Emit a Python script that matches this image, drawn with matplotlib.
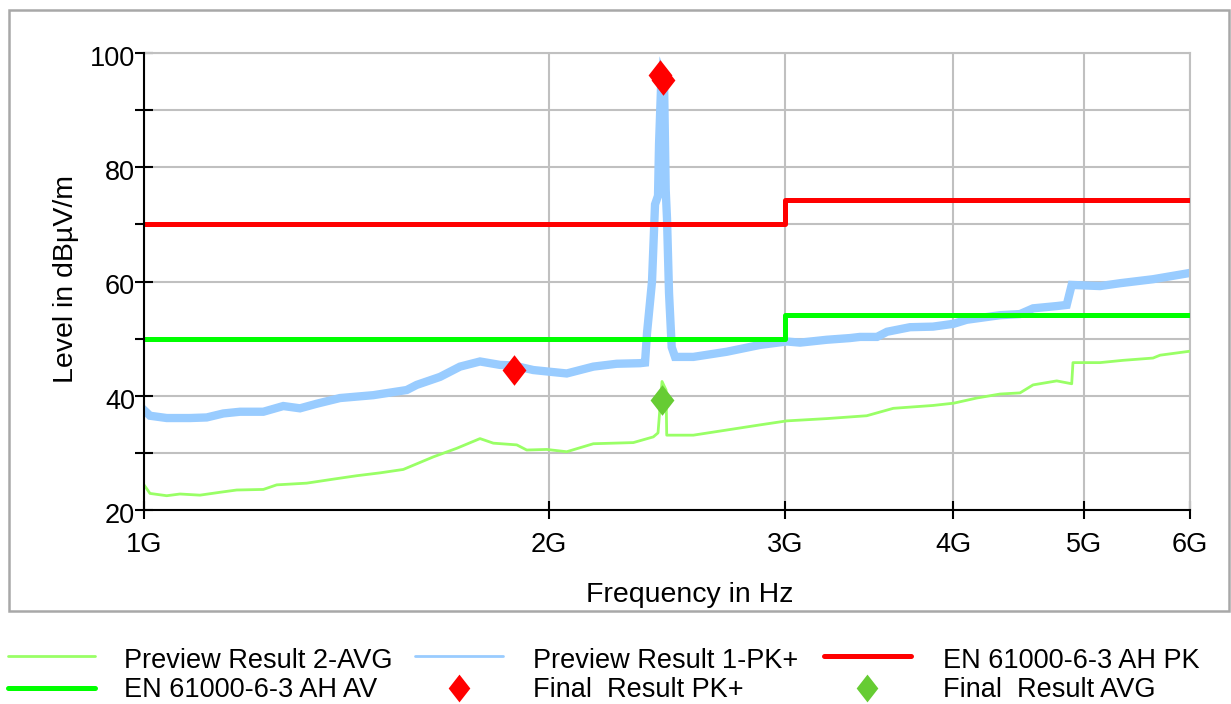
import matplotlib
matplotlib.use("Agg")
import matplotlib.pyplot as plt
from matplotlib.lines import Line2D
from matplotlib.patches import Rectangle
from matplotlib.ticker import FixedLocator, NullLocator
from matplotlib.transforms import ScaledTranslation

plt.rcParams['font.family'] = ['Liberation Sans', 'DejaVu Sans']

# frequency in GHz, level in dBuV/m
pk_freq = [1.000, 1.0103, 1.0397, 1.0820, 1.1134, 1.1455, 1.1787, 1.2268, 1.2695,
           1.3063, 1.3442, 1.3990, 1.4811, 1.5683, 1.5954, 1.6604, 1.7183, 1.7782,
           1.8402, 1.8826, 1.9482, 2.0047, 2.0629, 2.1591, 2.2473, 2.3388, 2.3590,
           2.3671, 2.3874, 2.3998, 2.4121, 2.4163, 2.4246, 2.4287, 2.4371, 2.4441,
           2.4495, 2.4580, 2.4693, 2.4834, 2.5625, 2.7133, 2.8726, 3.0069, 3.0764,
           3.2203, 3.3514, 3.4093, 3.5099, 3.5706, 3.7141, 3.8634, 4.0028, 4.0930,
           4.3331, 4.4844, 4.5857, 4.7753, 4.8577, 4.8995, 5.1430, 5.3223, 5.6318,
           6.000]
pk_level = [37.5, 36.5, 36.1, 36.1, 36.2, 36.9, 37.2, 37.2, 38.2,
            37.8, 38.6, 39.6, 40.1, 41.0, 41.9, 43.3, 45.1, 46.0,
            45.4, 45.3, 44.5, 44.2, 43.9, 45.1, 45.6, 45.7, 45.8,
            51.0, 60.0, 73.5, 75.0, 84.0, 94.0, 96.0, 95.0, 76.0,
            71.0, 58.0, 48.5, 46.8, 46.8, 47.7, 48.9, 49.5, 49.3,
            49.8, 50.1, 50.3, 50.3, 51.2, 52.0, 52.1, 52.6, 53.3,
            54.1, 54.3, 55.3, 55.7, 55.9, 59.4, 59.2, 59.7, 60.4,
            61.5]

avg_freq = [1.000, 1.0103, 1.0397, 1.0636, 1.1007, 1.1390, 1.1721, 1.2268, 1.2552,
            1.3214, 1.3830, 1.4396, 1.4982, 1.5592, 1.6415, 1.7086, 1.7782, 1.8192,
            1.8937, 1.9263, 1.9934, 2.0629, 2.1591, 2.3122, 2.3928, 2.4121, 2.4287,
            2.4455, 2.4483, 2.5625, 2.7133, 2.8726, 3.0069, 3.2203, 3.4487, 3.6094,
            3.8634, 4.0028, 4.1638, 4.3331, 4.4844, 4.5857, 4.7753, 4.8995, 4.9100,
            5.1430, 5.3497, 5.6318, 5.7001, 6.000]
avg_level = [24.4, 22.9, 22.5, 22.8, 22.6, 23.1, 23.5, 23.6, 24.4,
             24.7, 25.4, 26.0, 26.5, 27.1, 29.3, 30.8, 32.5, 31.7,
             31.4, 30.5, 30.6, 30.2, 31.6, 31.8, 32.8, 33.5, 42.5,
             41.0, 33.1, 33.1, 34.0, 34.9, 35.6, 36.0, 36.5, 37.8,
             38.3, 38.7, 39.6, 40.3, 40.5, 41.9, 42.6, 42.1, 45.8,
             45.8, 46.2, 46.6, 47.1, 47.8]

lim_freq = [1.0, 3.0, 3.0, 6.0]
lim_pk = [70.0, 70.0, 74.3, 74.3]
lim_av = [50.0, 50.0, 54.1, 54.1]

final_pk_freq = [1.885, 2.420, 2.433]
final_pk_level = [44.5, 96.1, 95.2]
final_avg_freq = [2.430]
final_avg_level = [39.3]

x_ticks = [1, 2, 3, 4, 5, 6]
x_labels = ['1G', '2G', '3G', '4G', '5G', '6G']

W, H = 1231, 704
FS = 19.5
diamond = [(0, 1), (0.78, 0), (0, -1), (-0.78, 0), (0, 1)]

fig = plt.figure(figsize=(W / 100, H / 100), dpi=100)
ax = fig.add_axes([144 / W, 1 - 510 / H, (1190 - 144) / W, (510 - 53) / H])

ax.plot(pk_freq, pk_level, color='#99ccff', lw=6, solid_joinstyle='miter', zorder=2)
ax.plot(avg_freq, avg_level, color='#99ff66', lw=2, zorder=3)
ax.plot(lim_freq, lim_pk, color='#ff0000', lw=3.6, zorder=4)
ax.plot(lim_freq, lim_av, color='#00ff00', lw=3.6, zorder=4)
ax.plot(final_pk_freq, final_pk_level, ls='none', marker=diamond, ms=22,
        color='#ff0000', mec='none', zorder=5)
ax.plot(final_avg_freq, final_avg_level, ls='none', marker=diamond, ms=22,
        color='#66cc33', mec='none', zorder=5)

ax.set_xscale('log')
ax.set_xlim(1, 6)
ax.set_ylim(20, 100)
ax.xaxis.set_major_locator(FixedLocator(x_ticks))
ax.xaxis.set_minor_locator(NullLocator())
ax.set_xticklabels(x_labels)
ax.yaxis.set_major_locator(FixedLocator([20, 40, 60, 80, 100]))
ax.yaxis.set_minor_locator(FixedLocator([30, 50, 70, 90]))
ax.grid(True, which='both', color='#c0c0c0', lw=1.5, zorder=0)
ax.set_axisbelow(True)

ax.tick_params(which='both', direction='inout', length=13, width=1.5, color='black',
               labelsize=FS)
ax.tick_params(axis='x', pad=9)
ax.tick_params(axis='y', pad=0)
# y labels sit a little below their ticks in the reference
shift = ScaledTranslation(0, -3 / 100, fig.dpi_scale_trans)
for lab in ax.get_yticklabels():
    lab.set_transform(lab.get_transform() + shift)
for s in ['left', 'bottom']:
    ax.spines[s].set_linewidth(1.5)
    ax.spines[s].set_zorder(6)
for s in ['top', 'right']:
    ax.spines[s].set_color('#c0c0c0')
    ax.spines[s].set_linewidth(1.5)

fig.text(689.5 / W, 1 - 601.5 / H, 'Frequency in Hz', ha='center', va='baseline', fontsize=20.5)
fig.text(66 / W, 1 - 279 / H, 'Level in dB\u00b5V/m', ha='center', va='center',
         rotation=90, fontsize=20.5)

# outer frame
fig.add_artist(Rectangle((9 / W, 1 - 611 / H), (1229 - 9) / W, (611 - 10) / H,
                         transform=fig.transFigure, fill=False, ec='#a8a8a8', lw=1.8))

# legend, drawn by hand to follow the reference layout
def fx(x):
    return x / W

def fy(y):
    return 1 - y / H

legend_rows = [
    [('line', 8, 95, '#99ff66', 2.0, 124, 'Preview Result 2-AVG'),
     ('line', 415, 503, '#99ccff', 2.0, 533, 'Preview Result 1-PK+'),
     ('line', 824, 911, '#ff0000', 3.6, 943, 'EN 61000-6-3 AH PK')],
    [('line', 8, 95, '#00ff00', 3.6, 124, 'EN 61000-6-3 AH AV'),
     ('marker', 459, 459, '#ff0000', 0, 533, 'Final  Result PK+'),
     ('marker', 867, 867, '#66cc33', 0, 943, 'Final  Result AVG')],
]
row_line_y = [656, 688]
row_base_y = [668, 697]
for r, row in enumerate(legend_rows):
    for kind, x0, x1, col, lw, tx, label in row:
        if kind == 'line':
            fig.add_artist(Line2D([fx(x0), fx(x1)], [fy(row_line_y[r])] * 2,
                                  transform=fig.transFigure, color=col, lw=lw,
                                  solid_capstyle='round'))
        else:
            fig.add_artist(Line2D([fx(x0)], [fy(row_line_y[r])], transform=fig.transFigure,
                                  ls='none', marker=diamond, ms=20, color=col, mec='none'))
        fig.text(fx(tx), fy(row_base_y[r]), label, ha='left', va='baseline', fontsize=FS)

fig.savefig('out.png', dpi=100, facecolor='white')
